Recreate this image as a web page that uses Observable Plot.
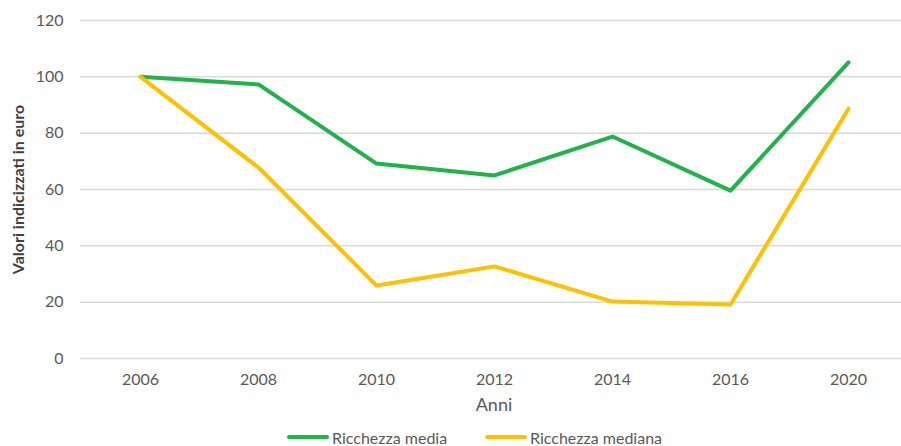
<!DOCTYPE html>
<html>
<head>
<meta charset="utf-8">
<script src="https://cdn.jsdelivr.net/npm/d3@7"></script>
<script src="https://cdn.jsdelivr.net/npm/@observablehq/plot@0.6"></script>
<style>
  html, body { margin: 0; padding: 0; background: #fff; overflow: hidden; }
  body { width: 901px; height: 446px; position: relative; font-family: Lato, "Open Sans", sans-serif; }
  #chart svg { display: block; }
  #legend { position: absolute; top: 426px; left: 0; width: 901px; height: 22px; font-size: 16px; color: #595959; }
  .item { position: absolute; top: 0; display: flex; align-items: center; height: 22px; }
  .swatch { width: 42px; height: 4px; border-radius: 2px; margin-right: 3px; }
</style>
</head>
<body>
<div id="chart"></div>
<div id="legend"></div>
<script>
const years = ["2006", "2008", "2010", "2012", "2014", "2016", "2020"];
const media = [100, 97.3, 69.2, 65, 78.8, 59.6, 105.1];
const mediana = [100, 67.8, 25.9, 32.7, 20.2, 19.2, 88.7];
const seriesNames = ["Ricchezza media", "Ricchezza mediana"];
const seriesColors = ["#21b24b", "#ffc000"];
const yTicks = [0, 20, 40, 60, 80, 100, 120];

const rows = [];
years.forEach((y, i) => {
  rows.push({year: y, value: media[i], series: seriesNames[0]});
  rows.push({year: y, value: mediana[i], series: seriesNames[1]});
});

const chart = Plot.plot({
  width: 901,
  height: 426,
  marginLeft: 80,
  marginRight: -6,
  marginTop: 20,
  marginBottom: 68,
  style: {fontFamily: "Lato, 'Open Sans', sans-serif", fontSize: "16px", color: "#595959", background: "#fff"},
  x: {type: "point", domain: years, padding: 0.5, label: null},
  y: {domain: [0, 120], ticks: yTicks, label: null},
  color: {domain: seriesNames, range: seriesColors},
  marks: [
    Plot.ruleY(yTicks, {stroke: "#d9d9d9", strokeWidth: 1.5}),
    Plot.axisY({ticks: yTicks, tickSize: 0, tickPadding: 17, label: null, fill: "#595959", fontSize: 16}),
    Plot.axisX({tickSize: 0, tickPadding: 15, label: null, fill: "#595959", fontSize: 16}),
    Plot.line(rows, {x: "year", y: "value", z: "series", stroke: "series", strokeWidth: 4, strokeLinejoin: "round", strokeLinecap: "round"}),
    Plot.text(["Anni"], {frameAnchor: "bottom", dy: 52, fill: "#595959", fontSize: 18}),
    Plot.text(["Valori indicizzati in euro"], {frameAnchor: "left", dx: -62, textAnchor: "middle", rotate: -90, fill: "#404040", fontSize: 16, fontWeight: "bold"})
  ]
});
document.getElementById("chart").appendChild(chart);

const legend = document.getElementById("legend");
const lefts = [287, 485];
seriesNames.forEach((n, i) => {
  const it = document.createElement("div");
  it.className = "item";
  it.style.left = lefts[i] + "px";
  const sw = document.createElement("div");
  sw.className = "swatch";
  sw.style.background = seriesColors[i];
  it.appendChild(sw);
  const t = document.createElement("span");
  t.textContent = n;
  it.appendChild(t);
  legend.appendChild(it);
});
</script>
</body>
</html>
